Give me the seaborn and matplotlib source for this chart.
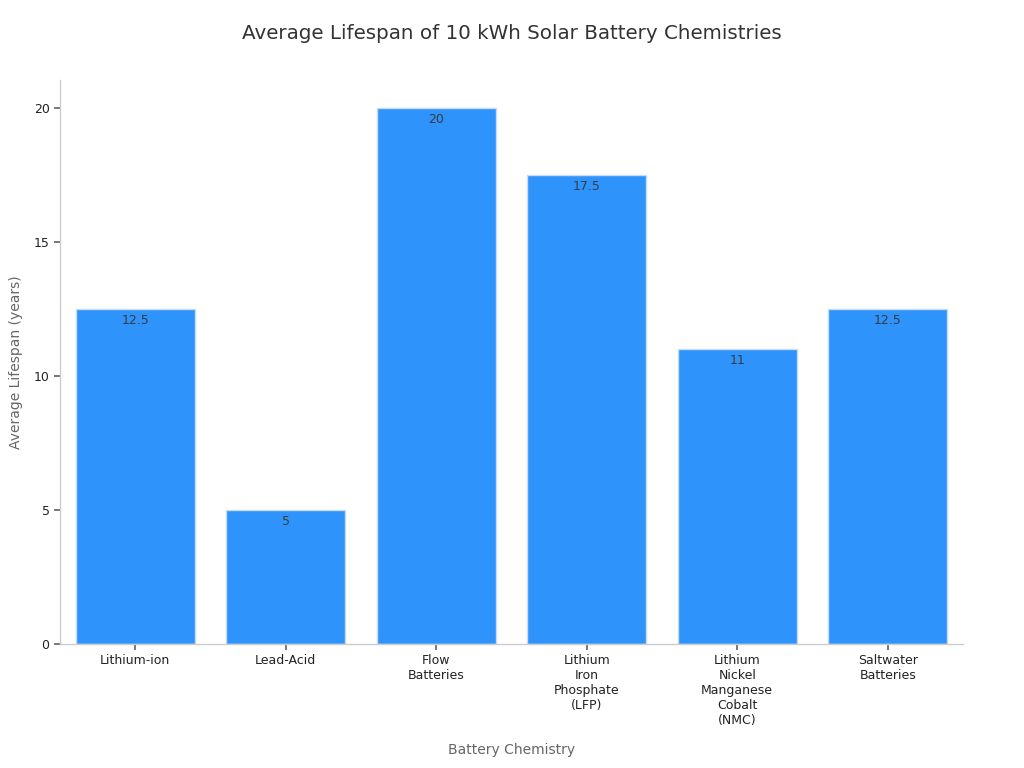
import matplotlib
matplotlib.use("Agg")
import matplotlib.pyplot as plt
import seaborn as sns
import pandas as pd

categories = ["Lithium-ion", "Lead-Acid", "Flow\nBatteries", "Lithium\nIron\nPhosphate\n(LFP)",
              "Lithium\nNickel\nManganese\nCobalt\n(NMC)", "Saltwater\nBatteries"]
values = [12.5, 5, 20, 17.5, 11, 12.5]
value_labels = ["12.5", "5", "20", "17.5", "11", "12.5"]

sns.set_theme(style="white")
plt.rcParams['font.family'] = ['DejaVu Sans']

df = pd.DataFrame({"cat": categories, "val": values})
fig = plt.figure(figsize=(10.24, 7.68), dpi=100)
ax = fig.add_axes([0.0586, 0.1615, 0.8818, 0.7343])
sns.barplot(data=df, x="cat", y="val", color="#2E93FA", saturation=1, width=0.79,
            edgecolor="#c8dcf0", linewidth=1, ax=ax)
ax.set_xlim(-0.5, 5.5)
ax.set_ylim(0, 21.04)
ax.set_yticks([0, 5, 10, 15, 20])
for i, (v, lab) in enumerate(zip(values, value_labels)):
    ax.text(i, v - 0.2, lab, ha="center", va="top", fontsize=9, color="#373d3f")
for s in ["top", "right"]:
    ax.spines[s].set_visible(False)
for s in ["left", "bottom"]:
    ax.spines[s].set_color("#cccccc")
    ax.spines[s].set_linewidth(1)
ax.tick_params(axis="both", which="both", length=4, color="#666666", labelsize=9, labelcolor="#222222",
               bottom=True, left=True)
ax.set_xlabel("Battery Chemistry", fontsize=10, color="#666666", labelpad=11)
ax.set_ylabel("Average Lifespan (years)", fontsize=10, color="#666666", labelpad=8)
fig.text(0.5, 0.957, "Average Lifespan of 10 kWh Solar Battery Chemistries", ha="center", va="center",
         fontsize=14.3, color="#333333")
fig.savefig("out.png", dpi=100)
